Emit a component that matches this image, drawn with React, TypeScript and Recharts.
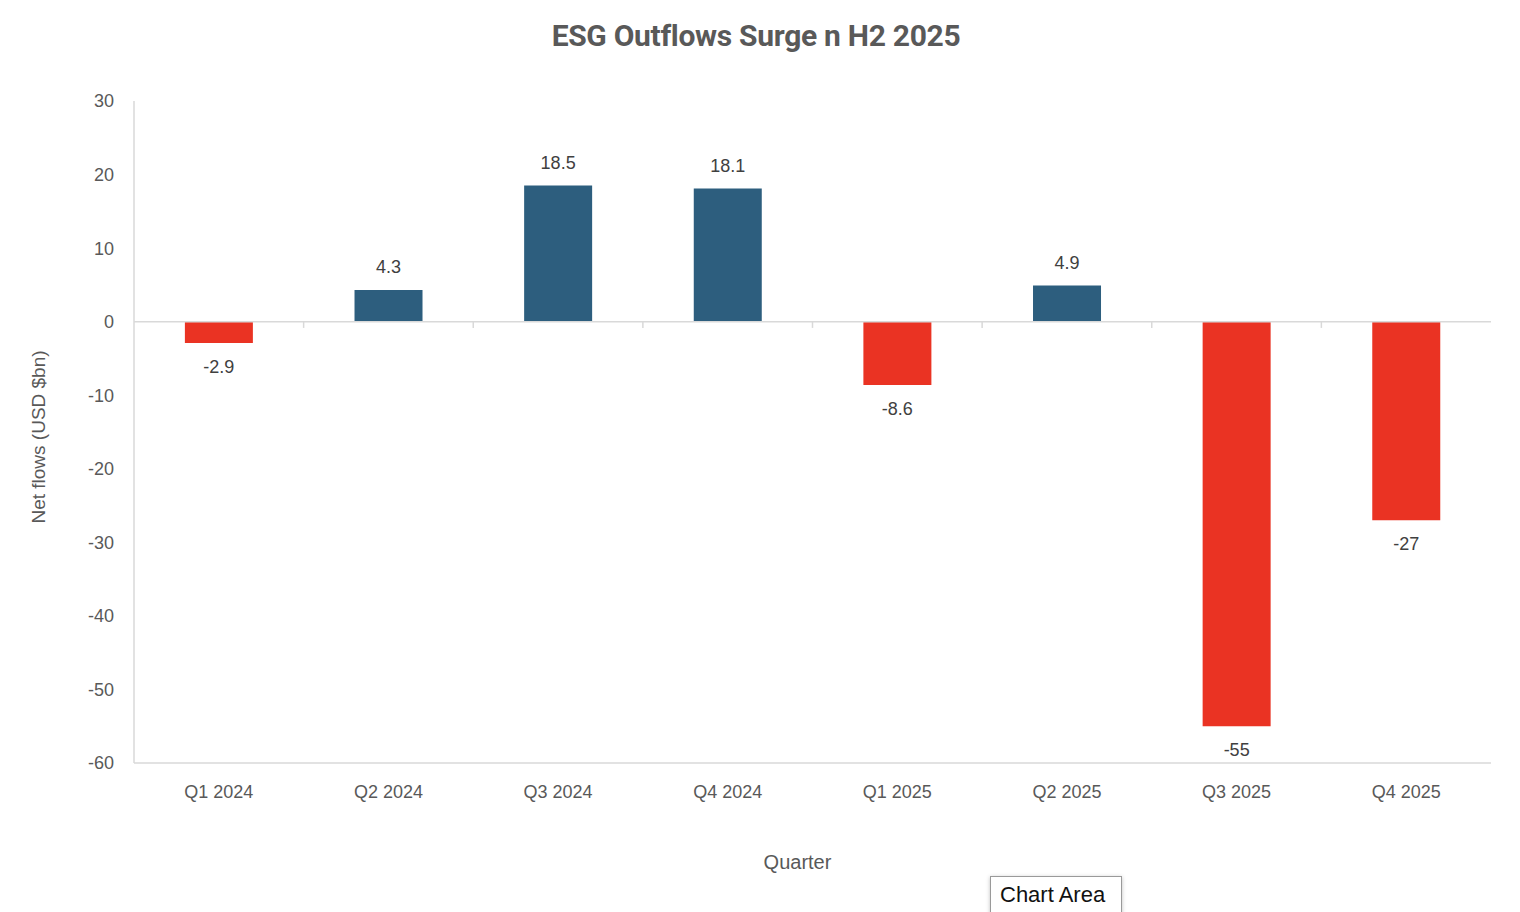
import React from 'react';
import {
  BarChart,
  Bar,
  XAxis,
  YAxis,
  Cell,
  LabelList,
  ReferenceLine,
} from 'recharts';

const quarters = ['Q1 2024', 'Q2 2024', 'Q3 2024', 'Q4 2024', 'Q1 2025', 'Q2 2025', 'Q3 2025', 'Q4 2025'];
const netFlows = [-2.9, 4.3, 18.5, 18.1, -8.6, 4.9, -55, -27];
const yTicks = [30, 20, 10, 0, -10, -20, -30, -40, -50, -60];

const data = quarters.map((q, i) => ({ q, v: netFlows[i] }));
const boundaryCats = quarters.slice(1);

const BLUE = '#2D5E7E';
const RED = '#EA3323';
const GRID = '#D9D9D9';
const TEXT = '#595959';
const FONT = '"Liberation Sans", Arial, sans-serif';

const ValueLabel = (props: any) => {
  const { x, y, width, height, value } = props;
  const top = Math.min(y, y + height);
  const bottom = Math.max(y, y + height);
  const cy = value >= 0 ? top - 23 : bottom + 24;
  return (
    <text
      x={x + width / 2}
      y={cy}
      textAnchor="middle"
      dominantBaseline="central"
      fill="#404040"
      fontSize={18}
      fontFamily={FONT}
    >
      {value}
    </text>
  );
};

const XLabel = (props: any) => {
  const vb = props.viewBox;
  return (
    <text
      x={vb.x + vb.width / 2 - 15}
      y={862}
      textAnchor="middle"
      dominantBaseline="central"
      fill={TEXT}
      fontSize={20}
      fontFamily={FONT}
    >
      Quarter
    </text>
  );
};

const YLabel = () => (
  <text
    x={38}
    y={437}
    transform="rotate(-90 38 437)"
    textAnchor="middle"
    dominantBaseline="central"
    fill={TEXT}
    fontSize={19}
    fontFamily={FONT}
  >
    Net flows (USD $bn)
  </text>
);

export default function App() {
  return (
    <div style={{ position: 'absolute', left: 0, top: 0, width: 1520, height: 912, background: '#fff', overflow: 'hidden' }}>
      <div
        style={{
          position: 'absolute',
          left: 0,
          width: 1512,
          top: 16,
          textAlign: 'center',
          fontFamily: 'Roboto, sans-serif',
          fontWeight: 700,
          fontSize: 30,
          letterSpacing: -0.3,
          color: TEXT,
          lineHeight: '40px',
        }}
      >
        ESG Outflows Surge n H2 2025
      </div>
      <BarChart
        width={1520}
        height={912}
        data={data}
        margin={{ top: 101, right: 29, bottom: 0, left: 0 }}
        barCategoryGap="30%"
      >
        <XAxis
          dataKey="q"
          height={149}
          axisLine={{ stroke: GRID, strokeWidth: 1.5 }}
          tickLine={false}
          tickSize={0}
          tickMargin={22}
          tick={{ fill: TEXT, fontSize: 18, fontFamily: FONT }}
          interval={0}
          label={<XLabel />}
        />
        <XAxis
          xAxisId="top"
          dataKey="q"
          orientation="top"
          height={0}
          tick={false}
          tickLine={false}
          axisLine={{ stroke: GRID, strokeWidth: 1.5 }}
        />
        <YAxis
          width={134}
          domain={[-60, 30]}
          ticks={yTicks}
          interval={0}
          axisLine={{ stroke: GRID, strokeWidth: 1.5 }}
          tickLine={false}
          tickSize={0}
          tickMargin={20}
          tick={{ fill: TEXT, fontSize: 18, fontFamily: FONT }}
          label={<YLabel />}
        />
        <YAxis
          yAxisId="right"
          orientation="right"
          width={0}
          domain={[-60, 30]}
          tick={false}
          tickLine={false}
          axisLine={{ stroke: GRID, strokeWidth: 1.5 }}
        />
        <ReferenceLine y={0} stroke={GRID} strokeWidth={1.5} />
        {boundaryCats.map((c) => (
          <ReferenceLine
            key={c}
            position="start"
            segment={[{ x: c, y: 0 }, { x: c, y: -0.85 }]}
            stroke={GRID}
            strokeWidth={1.5}
            ifOverflow="visible"
          />
        ))}
        <Bar dataKey="v" isAnimationActive={false}>
          {data.map((d, i) => (
            <Cell key={i} fill={d.v >= 0 ? BLUE : RED} />
          ))}
          <LabelList dataKey="v" content={<ValueLabel />} />
        </Bar>
      </BarChart>
      <div
        style={{
          position: 'absolute',
          left: 990,
          top: 876,
          width: 132,
          height: 44,
          background: '#fff',
          border: '1px solid #9a9a9a',
          boxShadow: '0 1px 4px rgba(0,0,0,0.25)',
          fontFamily: FONT,
          fontSize: 22,
          color: '#111',
          boxSizing: 'border-box',
          paddingLeft: 9,
          paddingTop: 5,
        }}
      >
        Chart Area
      </div>
    </div>
  );
}
